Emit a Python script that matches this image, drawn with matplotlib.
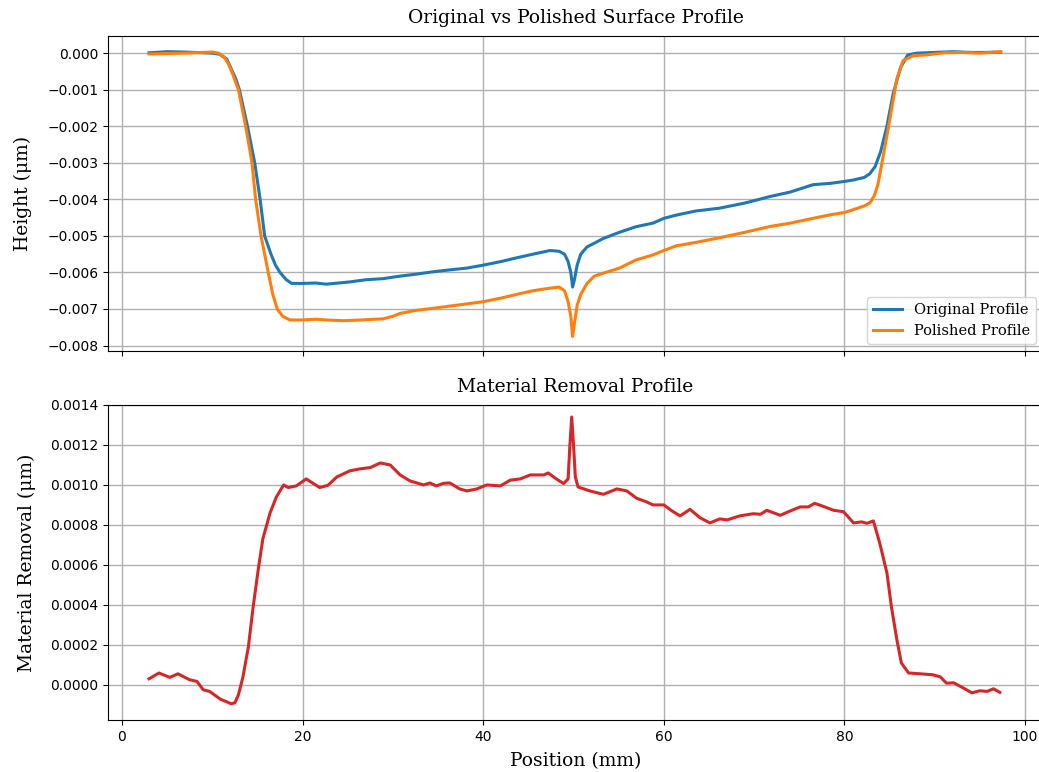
import matplotlib
matplotlib.use("Agg")
import matplotlib.pyplot as plt

# ---- data ----
x_orig = [3, 5, 7, 9, 10, 10.8, 11.6, 12.1, 12.6, 13.0, 13.9, 14.7, 15.3, 15.8, 16.5,
          17.0, 17.5, 18.2, 18.8, 20, 21.5, 22.6, 23.5, 25.2, 27, 28.9, 30.8, 32.5,
          34.5, 36.3, 38.2, 40, 42, 43.7, 45.5, 47.4, 48.4, 49.0, 49.4, 49.7, 49.9,
          50.1, 50.4, 50.8, 51.5, 52.3, 53.3, 55.1, 56.9, 58.8, 60, 61.4, 63.5, 66.2,
          69, 71.8, 74, 76.5, 78.5, 80, 81, 82.2, 82.8, 83.4, 84.0, 84.7, 85.4, 86.2,
          87.0, 88, 90, 92, 94, 95.5, 97.3]
h_orig = [0.00001, 0.00004, 0.00003, 0.00001, 0.0, -0.00003, -0.00016, -0.00043, -0.0007,
          -0.0010, -0.0020, -0.0030, -0.0040, -0.0050, -0.0055, -0.0058, -0.0060,
          -0.0062, -0.0063, -0.0063, -0.00629, -0.00632, -0.0063, -0.00626, -0.0062,
          -0.00617, -0.0061, -0.00605, -0.00598, -0.00593, -0.00588, -0.0058, -0.0057,
          -0.0056, -0.0055, -0.0054, -0.00542, -0.0055, -0.0057, -0.0060, -0.0064,
          -0.0062, -0.0058, -0.0055, -0.0053, -0.0052, -0.00507, -0.0049, -0.00475,
          -0.00465, -0.00452, -0.00443, -0.00432, -0.00424, -0.0041, -0.00392, -0.0038,
          -0.0036, -0.00356, -0.00351, -0.00347, -0.0034, -0.0033, -0.0031, -0.0027,
          -0.0020, -0.0011, -0.0004, -0.00005, 0.0, 0.00002, 0.00004, 0.00002, 0.00002,
          0.00003]

x_pol = [3, 5, 7, 9, 10, 10.7, 11.3, 11.8, 12.3, 12.9, 13.7, 14.4, 14.8, 15.4, 15.8,
         16.2, 16.7, 17.2, 17.8, 18.6, 20, 21.5, 22.6, 24.5, 26.5, 28.9, 30.0, 30.8,
         32.5, 34.5, 36.3, 38.2, 40, 42, 43.7, 45.5, 47.4, 48.4, 49.0, 49.4, 49.7, 49.9,
         50.1, 50.4, 50.8, 51.5, 52.3, 53.3, 55.1, 56.9, 58.8, 60, 61.4, 63.5, 66.2, 69,
         71.8, 74, 76.5, 78.5, 80, 81, 82.2, 82.8, 83.3, 83.7, 84.3, 85.1, 85.8, 86.5,
         87.6, 89, 91, 93, 95, 97.3]
h_pol = [-0.00002, -0.00001, 0.0, 0.00002, 0.00003, 0.0, -0.0001, -0.0003, -0.0006,
         -0.0010, -0.0020, -0.0030, -0.0040, -0.0050, -0.0055, -0.0060, -0.0066, -0.0070,
         -0.0072, -0.0073, -0.0073, -0.00728, -0.0073, -0.00732, -0.0073, -0.00727,
         -0.0072, -0.00712, -0.00704, -0.00698, -0.00692, -0.00686, -0.0068, -0.0067,
         -0.0066, -0.0065, -0.00643, -0.0064, -0.0065, -0.0068, -0.0072, -0.00775,
         -0.0074, -0.0069, -0.0066, -0.0063, -0.0061, -0.00602, -0.00588, -0.00566,
         -0.00552, -0.0054, -0.00527, -0.00518, -0.00505, -0.0049, -0.00474, -0.00465,
         -0.00452, -0.00442, -0.00436, -0.00428, -0.00418, -0.0041, -0.0039, -0.0036,
         -0.0028, -0.0017, -0.0007, -0.0002, -0.00007, -0.00005, 0.00001, 0.00002, 0.0,
         0.00004]

x_rem = [3.0, 4.1, 5.3, 6.2, 7.5, 8.3, 9.0, 9.7, 10.9, 12.1, 12.5, 12.9, 13.4, 14.0,
         14.5, 15.1, 15.6, 16.4, 17.1, 17.9, 18.4, 19.3, 20.4, 21.9, 22.8, 23.8, 25.2,
         26.3, 27.5, 28.6, 29.7, 30.8, 31.9, 33.4, 34.1, 34.8, 35.6, 36.3, 37.4, 38.2,
         39.3, 40.4, 41.9, 43.0, 44.1, 45.2, 46.7, 47.2, 48.1, 48.9, 49.4, 49.6, 49.8,
         50.0, 50.2, 50.5, 51.8, 53.3, 54.8, 55.9, 57.0, 58.1, 58.8, 60.0, 60.9, 61.8,
         62.9, 64.0, 65.1, 66.2, 67.0, 68.4, 69.9, 70.7, 71.4, 72.9, 74.0, 75.1, 76.0,
         76.7, 77.7, 78.8, 79.9, 81.0, 81.9, 82.5, 83.2, 83.9, 84.7, 85.2, 85.8, 86.3,
         87.1, 88.4, 89.8, 90.6, 91.3, 92.1, 93.2, 94.1, 95.0, 95.8, 96.5, 97.2]
removal = [0.00003, 0.000059, 0.000037, 0.000055, 0.000025, 0.000017, -0.000025,
           -0.000033, -0.000072, -0.000095, -0.00009, -0.00005, 0.00004, 0.00019,
           0.00038, 0.00058, 0.00073, 0.00086, 0.00094, 0.001, 0.000987, 0.000995,
           0.00103, 0.000987, 0.000998, 0.00104, 0.00107, 0.00108, 0.001087, 0.00111,
           0.0011, 0.00105, 0.00102, 0.001, 0.00101, 0.000995, 0.001008, 0.00101,
           0.00098, 0.00097, 0.00098, 0.001, 0.000995, 0.001024, 0.00103, 0.00105,
           0.00105, 0.00106, 0.00103, 0.001007, 0.00103, 0.0012, 0.00134, 0.0012,
           0.00104, 0.00099, 0.00097, 0.000953, 0.00098, 0.00097, 0.000933, 0.000915,
           0.0009, 0.0009, 0.00087, 0.000845, 0.000878, 0.000836, 0.00081, 0.00083,
           0.000825, 0.000845, 0.000856, 0.000853, 0.000873, 0.000848, 0.00087, 0.00089,
           0.00089, 0.000908, 0.000892, 0.000873, 0.000866, 0.00081, 0.000815, 0.000808,
           0.00082, 0.00071, 0.00056, 0.00039, 0.000226, 0.000109, 0.000059, 0.000055,
           0.00005, 0.00004, 0.000008, 0.00001, -0.000017, -0.00004, -0.00003, -0.000033,
           -0.00002, -0.000038]

serif = "DejaVu Serif"
fs = 13.5

fig = plt.figure(figsize=(10.39, 7.72), dpi=100)
ax1 = fig.add_axes([0.1039, 0.5453, 0.9001, 0.4081])
ax2 = fig.add_axes([0.1039, 0.0674, 0.9001, 0.4080], sharex=ax1)

ax1.plot(x_orig, h_orig, color="tab:blue", lw=2.2, label="Original Profile")
ax1.plot(x_pol, h_pol, color="tab:orange", lw=2.2, label="Polished Profile")
ax1.set_title("Original vs Polished Surface Profile", fontfamily=serif, fontsize=fs, pad=9)
ax1.set_ylabel("Height (μm)", fontfamily=serif, fontsize=fs, labelpad=11)
ax1.legend(loc="lower right", prop={"family": serif, "size": 10.5})
ax1.grid(True, color="#b0b0b0", lw=1.0)
ax1.tick_params(labelbottom=False, labelsize=10)
ax1.set_yticks([0.0, -0.001, -0.002, -0.003, -0.004, -0.005, -0.006, -0.007, -0.008])
ax1.set_ylim(-0.00815, 0.00047)

ax2.plot(x_rem, removal, color="tab:red", lw=2.2)
ax2.set_title("Material Removal Profile", fontfamily=serif, fontsize=fs, pad=9)
ax2.set_ylabel("Material Removal (μm)", fontfamily=serif, fontsize=fs, labelpad=10)
ax2.set_xlabel("Position (mm)", fontfamily=serif, fontsize=fs, labelpad=6)
ax2.grid(True, color="#b0b0b0", lw=1.0)
ax2.tick_params(labelsize=10)
ax2.set_yticks([0.0, 0.0002, 0.0004, 0.0006, 0.0008, 0.0010, 0.0012, 0.0014])
ax2.set_ylim(-0.000176, 0.0014)
ax2.set_xticks([0, 20, 40, 60, 80, 100])
ax2.set_xlim(-1.55, 102.0)

for ax in (ax1, ax2):
    ax.spines["right"].set_visible(False)

fig.savefig("out.png", dpi=100)
